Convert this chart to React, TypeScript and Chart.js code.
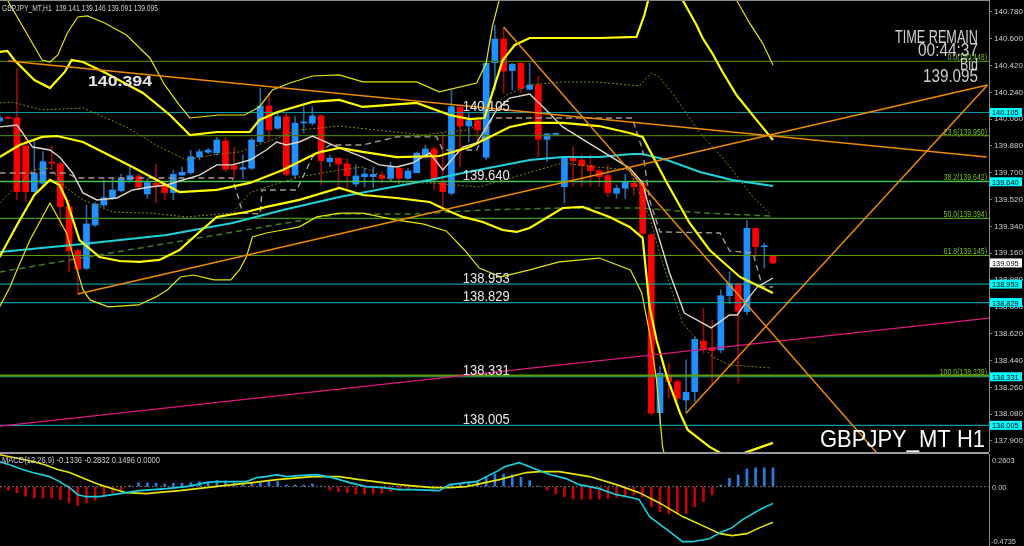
import React, { useEffect, useRef } from "react";
import { Chart, registerables } from "chart.js";
Chart.register(...registerables);

// ---------------- data ----------------
const candleOpen = [140.048,140.072,140.070,139.880,139.573,139.630,139.772,139.759,139.473,139.177,
 139.059,139.350,139.484,139.529,139.580,139.652,139.679,139.558,139.630,139.625,
 139.567,139.685,139.701,139.808,139.838,139.835,139.914,139.746,139.724,139.731,
 139.909,140.149,139.999,140.077,139.685,140.035,140.033,140.082,139.775,139.798,
 139.760,139.625,139.674,139.674,139.685,139.663,139.730,139.663,139.701,139.808,
 139.860,139.634,139.563,140.140,140.014,140.050,139.804,140.439,140.598,140.386,
 140.435,140.261,140.290,139.925,139.958,139.607,139.804,139.786,139.748,139.714,
 139.681,139.563,139.596,139.630,139.630,139.283,138.090,138.343,138.298,138.175,
 138.231,138.571,138.526,138.511,138.875,138.958,138.768,139.327,139.204,139.141];
const candleHigh = [140.090,140.080,140.400,139.932,139.927,139.842,139.880,139.770,139.517,139.190,
 139.484,139.500,139.652,139.665,139.690,139.741,139.690,139.659,139.759,139.640,
 139.719,139.741,139.853,139.858,139.865,139.936,139.936,139.871,139.820,139.932,
 140.267,140.236,140.104,140.100,140.077,140.144,140.144,140.090,139.820,139.800,
 139.798,139.753,139.732,139.740,139.708,139.772,139.741,139.730,139.840,139.887,
 139.875,139.965,140.256,140.155,140.100,140.077,140.446,140.692,140.670,140.435,
 140.440,140.435,140.350,139.965,139.970,139.810,139.875,139.820,139.820,139.720,
 139.753,139.618,139.690,139.660,139.652,139.290,138.399,138.421,138.310,138.444,
 138.600,138.790,138.712,138.914,139.036,138.960,139.379,139.330,139.228,139.146];
const candleLow = [140.030,140.060,139.518,139.506,139.570,139.607,139.719,139.339,139.037,138.886,
 139.048,139.340,139.470,139.520,139.570,139.645,139.585,139.529,139.500,139.518,
 139.518,139.680,139.690,139.786,139.830,139.820,139.708,139.663,139.663,139.719,
 139.900,139.920,139.990,139.679,139.663,139.967,140.020,139.618,139.741,139.596,
 139.596,139.607,139.605,139.600,139.630,139.650,139.630,139.655,139.700,139.800,
 139.585,139.464,139.552,139.741,139.909,139.898,139.786,140.256,140.234,140.256,
 140.234,140.256,139.808,139.775,139.950,139.497,139.607,139.607,139.607,139.607,
 139.540,139.529,139.529,139.550,139.280,138.074,137.996,138.187,138.170,138.086,
 138.164,138.490,138.287,138.493,138.824,138.287,138.746,139.137,139.060,139.091];
const candleClose = [140.070,140.066,139.573,139.573,139.697,139.775,139.765,139.473,139.177,139.053,
 139.357,139.491,139.533,139.585,139.663,139.681,139.607,139.634,139.618,139.567,
 139.690,139.703,139.808,139.842,139.853,139.920,139.724,139.724,139.735,139.920,
 140.149,139.988,140.077,139.690,140.033,140.040,140.082,139.781,139.798,139.759,
 139.680,139.679,139.692,139.690,139.663,139.741,139.663,139.712,139.831,139.860,
 139.652,139.573,140.144,140.014,140.050,139.988,140.435,140.598,140.383,140.428,
 140.267,140.290,139.925,139.961,139.962,139.804,139.781,139.748,139.714,139.674,
 139.567,139.596,139.637,139.607,139.294,138.086,138.354,138.298,138.187,138.226,
 138.582,138.521,138.506,138.875,138.958,138.772,139.327,139.204,139.206,139.095];

// indicator lines: [bar index, price]
const bbMid = [[0,139.806],[2.3,139.887],[4.9,139.941],[6.6,139.947],[9.6,139.907],[15.3,139.739],[20.7,139.571],[25,139.585],[28.8,139.632],[32.6,139.719],[36.5,139.833],[39.1,139.867],[41.8,139.840],[45.7,139.806],[50.6,139.813],[54.1,139.873],[56.4,139.941],[58.7,140.008],[61,140.035],[64.8,140.035],[69,140.014],[72.5,139.967],[74,139.941],[76.8,139.632],[79.4,139.363],[81.7,139.182],[85.2,139.001],[89,138.894]];
const bbUpper2 = [[0,140.511],[0.9,140.518],[1.7,140.457],[4,140.323],[5.8,140.269],[7.5,140.377],[8.3,140.457],[9.6,140.444],[12,140.377],[16.5,140.236],[19.6,140.088],[21.9,139.954],[25,139.974],[28.8,139.974],[29.9,140.055],[32,140.108],[36,140.176],[39.1,140.189],[41.8,140.142],[48,140.169],[51.8,140.088],[54.1,140.061],[55.8,140.068],[57,140.290],[57.9,140.457],[59.3,140.558],[61,140.605],[69,140.605],[73.3,140.612],[74.2,140.759],[74.8,140.894],[75.9,140.961],[78.6,140.860],[80.2,140.692],[80.9,140.605],[82,140.504],[83.2,140.377],[84.8,140.222],[87.1,140.055],[89,139.920]];
const bbLower2 = [[0,139.135],[2,139.350],[4,139.551],[5.8,139.652],[6.9,139.618],[7.7,139.518],[9.2,139.249],[11.5,139.135],[13.8,139.108],[16.1,139.102],[18.4,139.115],[20.7,139.182],[23,139.303],[25,139.404],[28.4,139.437],[30.7,139.471],[34.5,139.518],[39.1,139.598],[41.8,139.551],[45.7,139.531],[49.5,139.504],[51.4,139.451],[53.3,139.404],[55.6,139.370],[57.9,139.316],[59.5,139.303],[61,139.330],[64.8,139.464],[67.1,139.471],[70.2,139.404],[72.5,139.337],[74,139.263],[74.8,138.800],[75.6,138.578],[76.8,138.330],[78.3,138.088],[79.2,137.974],[81.7,137.860],[84,137.786],[86.7,137.840],[89,137.887]];
const bbUpper3 = [[0,140.927],[0.9,140.860],[2.9,140.659],[4.9,140.457],[5.8,140.444],[6.7,140.491],[7.8,140.639],[9,140.746],[10.1,140.753],[12.1,140.706],[14.6,140.625],[17.3,140.471],[19,140.290],[20.7,140.155],[21.9,140.068],[25.3,140.088],[28.2,140.088],[29.9,140.142],[31.4,140.256],[33.4,140.303],[36,140.350],[39.1,140.357],[41.8,140.310],[48,140.310],[50.6,140.243],[54.9,140.303],[56,140.437],[56.7,140.679],[57.5,140.860],[58.7,141.061],[69,141.128],[80.6,141.061],[84.8,140.860],[86.3,140.706],[87.8,140.571],[89,140.424]];
const bbLower3 = [[0,138.800],[1.2,138.934],[2,139.048],[3.5,139.249],[5.8,139.498],[7.7,139.296],[9.6,138.914],[10.4,138.847],[12.5,138.800],[16,138.813],[18,138.867],[19.3,138.914],[20.8,139.001],[22.3,139.014],[24.7,138.981],[26.6,138.981],[27.6,139.048],[28.4,139.135],[29.1,139.269],[30.7,139.296],[32.6,139.316],[34.5,139.337],[36.5,139.404],[39.1,139.430],[41.8,139.430],[45.7,139.383],[48.7,139.357],[51.4,139.310],[53.5,139.182],[55.2,139.061],[57.7,139.001],[61,139.048],[64.4,139.102],[69,139.128],[72.6,139.048],[73.9,138.894],[74.8,138.625],[75.6,138.310],[76.3,137.860],[78.3,137.370],[89,137.236]];
const fastMA = [[0,140.008],[2,140.021],[3.8,139.873],[5.8,139.853],[6.9,139.806],[8.4,139.699],[9.6,139.565],[11.2,139.518],[13.5,139.531],[15.3,139.585],[17.3,139.605],[19.2,139.618],[21.1,139.652],[23,139.685],[25,139.753],[26.8,139.753],[28.8,139.786],[30.7,139.853],[31.9,139.907],[33,139.887],[34.5,139.907],[36,139.947],[38.3,139.887],[39.1,139.867],[41.8,139.806],[43.7,139.753],[45.7,139.739],[47.5,139.766],[49.5,139.833],[51,139.719],[53.3,139.873],[54.9,139.900],[57.2,140.122],[58.7,140.202],[61,140.229],[62.9,140.122],[64.8,140.008],[68.7,139.867],[72.5,139.732],[74,139.632],[74.5,139.518],[75.6,139.316],[77.1,139.028],[78.8,138.759],[81.9,138.659],[84,138.746],[84.9,138.746],[86.3,138.867],[87.2,138.934],[89,138.994]];
const cyanMA = [[0,139.169],[9.6,139.222],[19.2,139.283],[26.8,139.363],[32.6,139.451],[39.1,139.538],[49.5,139.652],[53.3,139.699],[61,139.786],[64.8,139.806],[69,139.806],[72.8,139.826],[74,139.826],[76.8,139.786],[80.6,139.706],[84.3,139.652],[89,139.612]];
const greenMA = [[0,139.034],[39.1,139.424],[48,139.424],[55.9,139.451],[64.8,139.464],[74,139.464],[80.9,139.430],[89,139.410]];
const greyStep = [[0,139.699],[7.7,139.699],[8.9,139.665],[26.8,139.665],[28,139.430],[30,139.424],[30.2,139.585],[34.2,139.585],[36,139.806],[38,139.887],[41.8,139.887],[45.7,139.941],[50.3,139.941],[51,139.853],[54.9,139.853],[56.7,140.068],[72.8,140.068],[74,139.853],[74.8,139.518],[76,139.303],[82.9,139.296],[84,139.176],[86.7,139.162],[87.8,138.934],[89,138.934]];
const oliveUpper = [[0,140.169],[1.5,140.175],[4.9,140.122],[9.6,140.135],[14.6,140.008],[18.4,139.873],[21.5,139.786],[24.5,139.820],[27.6,139.840],[30.7,139.907],[34.5,139.988],[39.1,140.014],[48.7,139.954],[51.4,139.974],[54.1,139.988],[58.3,140.222],[61,140.290],[64.8,140.310],[68.7,140.310],[73.6,140.283],[75,140.370],[75.9,140.343],[77.4,140.236],[79,140.102],[80.6,139.967],[83.7,139.766],[86.7,139.538],[88.8,139.417]];
const oliveLower = [[0,139.498],[3.8,139.719],[5.8,139.732],[7.7,139.598],[9.6,139.518],[13,139.437],[17.3,139.430],[21.5,139.404],[26.8,139.430],[28.8,139.565],[30.7,139.605],[34.5,139.672],[39.1,139.719],[41.8,139.739],[45.7,139.632],[49.5,139.632],[55.2,139.605],[64.8,139.766],[68.7,139.739],[72.5,139.719],[74.8,139.404],[76.3,139.095],[78.6,138.692],[82,138.464],[84,138.410],[88.8,138.390]];

const orangeLines = [
  [[1,140.450],[113.6,139.806]],
  [[9,138.886],[113.7,140.289]],
  [[58,140.679],[102,137.75]],
  [[79,138.086],[113.7,140.289]],
];
const pinkLine = [[0,138.000],[113.86,138.725]];

const cyanLevels = [140.105, 139.640, 138.953, 138.829, 138.331, 138.005];
const fibNames = ["0.0", "23.6", "38.2", "50.0", "61.8", "100.0"];
const fibLevels = [140.448, 139.950, 139.642, 139.394, 139.145, 138.339];
const fibColors = ["#487a00", "#487a00", "#45c845", "#3c9c1c", "#5a9e00", "#5f9c00"];
const bidPrice = 139.095;
const priceTicks = [137.9,138.08,138.26,138.44,138.62,138.8,138.98,139.16,139.34,139.52,139.7,139.88,140.06,140.24,140.42,140.6,140.78];

const macdHist = [-0.01,-0.03,-0.05,-0.077,-0.09,-0.09,-0.09,-0.104,-0.13,-0.15,
 -0.13,-0.11,-0.077,-0.05,-0.025,0.008,0.03,0.03,0.027,0.02,
 0.027,0.027,0.03,0.04,0.04,0.048,0.045,0.027,0.02,0.027,
 0.03,0.04,0.04,0.013,0.013,0.013,0.02,0.003,-0.027,-0.04,
 -0.048,-0.058,-0.06,-0.058,-0.053,-0.04,-0.027,-0.02,-0.01,-0.005,
 0.005,-0.01,0.013,0.027,0.04,0.048,0.074,0.10,0.10,0.093,
 0.074,0.048,0.005,-0.027,-0.058,-0.08,-0.10,-0.10,-0.10,-0.10,
 -0.093,-0.085,-0.08,-0.066,-0.08,-0.16,-0.20,-0.218,-0.218,-0.213,
 -0.16,-0.12,-0.066,0.013,0.066,0.093,0.14,0.15,0.15,0.1496];
const macdMain = [[0,0.199],[1.15,0.175],[2.65,0.136],[3.8,0.112],[5.75,0.080],[6.9,0.040],[8.05,-0.008],[9,-0.064],[10,-0.080],[11.5,-0.080],[13,-0.064],[14.6,-0.048],[16.1,-0.032],[19.2,-0.016],[21.5,0],[23.8,0.032],[25,0.040],[26.8,0.040],[28.4,0.040],[29.6,0.072],[30.7,0.080],[31.9,0.096],[33,0.080],[34.5,0.088],[36.5,0.096],[38.3,0.072],[40.3,0.032],[42.2,0],[44.1,-0.008],[46,-0.024],[47.5,-0.024],[50.6,-0.032],[51.8,0.016],[53.7,0.032],[54.9,0.040],[56,0.080],[57.2,0.120],[58.1,0.159],[59.8,0.191],[61.8,0.136],[63.3,0.096],[65.2,0.064],[66.7,0.016],[69,-0.016],[71,-0.064],[72.8,-0.088],[73.6,-0.104],[74.8,-0.239],[76.8,-0.343],[78.6,-0.439],[79.7,-0.439],[81.7,-0.415],[82.9,-0.367],[84.3,-0.327],[85.5,-0.263],[87.5,-0.183],[89,-0.1336]];
const macdSignal = [[0,0.255],[4,0.199],[5.2,0.175],[6.7,0.136],[8.05,0.112],[10,0.056],[11.5,0.016],[13,-0.016],[14.6,-0.048],[16.9,-0.056],[18.1,-0.048],[20.7,-0.032],[23.8,-0.008],[26.8,0.016],[29.1,0.032],[31.9,0.056],[36,0.080],[39.1,0.080],[41.4,0.056],[44.1,0.032],[46,0.016],[49.8,-0.008],[51.8,-0.008],[53.7,0],[57.5,0.056],[60.6,0.112],[62.1,0.120],[64.4,0.120],[67.9,0.080],[71,0.016],[73.6,-0.048],[75.9,-0.128],[78.6,-0.239],[81.4,-0.327],[82.9,-0.375],[84.3,-0.391],[86,-0.375],[87.5,-0.327],[89,-0.2832]];

const X_MIN = 0.05, X_MAX = 113.86;
const P_MIN = 137.826, P_MAX = 140.860;
const M_MIN = -0.4735, M_MAX = 0.2603;

const FONT = '"Liberation Sans", Arial, sans-serif';

// ---------------- helpers ----------------
function fitText(ctx: any, text: string, x: number, y: number, size: number, o: any) {
  ctx.save();
  ctx.font = `${o.weight || "normal"} ${size}px ${FONT}`;
  const w = ctx.measureText(text).width;
  const s = o.width ? o.width / w : (o.sx || 1);
  ctx.translate(x, y);
  ctx.scale(s, 1);
  ctx.textAlign = o.align || "left";
  ctx.textBaseline = "alphabetic";
  ctx.fillStyle = o.color;
  ctx.fillText(text, 0, 0);
  ctx.restore();
}

const lineDs = (pts: number[][], color: string, width: number, dash?: number[]) => ({
  type: "line",
  data: pts.map(([x, y]) => ({ x, y })),
  borderColor: color,
  borderWidth: width,
  borderDash: dash || [],
  pointRadius: 0,
  pointHoverRadius: 0,
  fill: false,
  tension: 0,
});

const hLine = (v: number, color: string, width: number) =>
  lineDs([[X_MIN, v], [X_MAX, v]], color, width);

const pricePlugin = {
  id: "priceText",
  afterDatasetsDraw(chart: any) {
    const ctx = chart.ctx;
    const xs = chart.scales.x;
    const ys = chart.scales.y;
    ctx.save();
    ctx.fillStyle = "#8c8c8c";
    ctx.fillRect(0, 0, chart.chartArea.right, 1);
    ctx.restore();
    fitText(ctx, "GBPJPY_MT,H1  139.141 139.146 139.091 139.095", 2, 11, 8.5, { width: 156, color: "#cccccc" });
    fitText(ctx, "140.394", 88, 86, 15, { width: 64, color: "#e6e6e6", weight: "bold" });
    cyanLevels.forEach((v) => {
      fitText(ctx, v.toFixed(3), xs.getPixelForValue(53.3), ys.getPixelForValue(v) - 1.5, 14, { width: 47, color: "#e8e8e8" });
    });
    fibLevels.forEach((v, i) => {
      fitText(ctx, `${fibNames[i]}(${v.toFixed(3)})`, 987, ys.getPixelForValue(v) - 1, 8.5, { sx: 0.82, align: "right", color: "#78c018" });
    });
    const c = "#cfcfcf";
    fitText(ctx, "TIME REMAIN", 978, 43, 18, { width: 83, align: "right", color: c });
    fitText(ctx, "00:44:37", 978, 55.5, 18, { width: 60, align: "right", color: c });
    fitText(ctx, "Bid", 978, 70, 17, { width: 18, align: "right", color: c });
    fitText(ctx, "139.095", 978, 82, 19, { width: 55, align: "right", color: c });
    fitText(ctx, "GBPJPY_MT H1", 985, 447, 24, { width: 165, align: "right", color: "#ffffff" });
  },
  afterDraw(chart: any) {
    const ctx = chart.ctx;
    const ys = chart.scales.y;
    const left = chart.chartArea.right + 1;
    const box = (v: number, bg: string) => {
      const y = ys.getPixelForValue(v);
      ctx.fillStyle = bg;
      ctx.fillRect(left, y - 4.5, 32, 9);
      fitText(ctx, v.toFixed(3), left + 2, y + 3, 8, { sx: 0.92, color: "#000000" });
    };
    cyanLevels.forEach((v) => box(v, "#00ffff"));
    box(bidPrice, "#ffffff");
  },
};

const macdPlugin = {
  id: "macdText",
  afterDatasetsDraw(chart: any) {
    fitText(chart.ctx, "MACD(12,26,9) -0.1336 -0.2832 0.1496 0.0000", 2, 8.5, 8.5, { width: 158, color: "#cccccc" });
  },
  afterDraw(chart: any) {
    const ctx = chart.ctx;
    const ys = chart.scales.y;
    const left = chart.chartArea.right + 3;
    fitText(ctx, M_MAX.toFixed(4), left, 9, 8, { sx: 0.92, color: "#c8c8c8" });
    fitText(ctx, "0.00", left, ys.getPixelForValue(0) + 3, 8, { sx: 0.92, color: "#c8c8c8" });
    fitText(ctx, M_MIN.toFixed(4), left - 1, 90, 8, { sx: 0.92, color: "#c8c8c8" });
  },
};

function priceConfig(): any {
  const up = (i: number) => candleClose[i] >= candleOpen[i];
  const idx = candleOpen.map((_, i) => i);
  const datasets: any[] = [
    ...orangeLines.map((l) => lineDs(l, "#ee8a00", 1.5)),
    lineDs(pinkLine, "#e0187e", 1.3),
    lineDs(bbUpper3, "#e6e600", 1.2),
    lineDs(bbLower3, "#e6e600", 1.2),
    lineDs(bbUpper2, "#ffff00", 2.2),
    lineDs(bbLower2, "#ffff00", 2.2),
    lineDs(bbMid, "#ffff00", 2.2),
    lineDs(fastMA, "#e2d6c6", 1.4),
    lineDs(greyStep, "#a29a90", 1.4, [6, 4]),
    lineDs(oliveUpper, "#8a8a00", 1, [2, 2]),
    lineDs(oliveLower, "#8a8a00", 1, [2, 2]),
    lineDs(cyanMA, "#1ed2dc", 2),
    lineDs(greenMA, "#3f7f1a", 1.5, [6, 4]),
    ...fibLevels.map((v, i) => hLine(v, fibColors[i], i === 5 ? 2 : 1.2)),
    ...cyanLevels.map((v) => hLine(v, "#0c9aa2", 1.2)),
    {
      type: "bar",
      data: idx.map((i) => ({ x: i, y: [candleOpen[i], candleClose[i]] })),
      backgroundColor: idx.map((i) => (up(i) ? "#1e90ff" : "#ff0000")),
      borderWidth: 0,
      barThickness: 6,
      minBarLength: 1,
      grouped: false,
    },
    {
      type: "bar",
      data: idx.map((i) => ({ x: i, y: [candleLow[i], candleHigh[i]] })),
      backgroundColor: idx.map((i) => (up(i) ? "#2a64a0" : "#9a0c0c")),
      borderWidth: 0,
      barThickness: 1,
      grouped: false,
    },
  ];
  return {
    type: "line",
    data: { datasets },
    options: {
      responsive: false,
      animation: false,
      events: [],
      layout: { padding: 0 },
      plugins: { legend: { display: false }, tooltip: { enabled: false } },
      scales: {
        x: { type: "linear", min: X_MIN, max: X_MAX, display: false, offset: false },
        y: {
          type: "linear",
          position: "right",
          min: P_MIN,
          max: P_MAX,
          afterBuildTicks: (s: any) => { s.ticks = priceTicks.map((v) => ({ value: v })); },
          afterFit: (s: any) => { s.width = 35; s.paddingTop = 0; s.paddingBottom = 0; },
          ticks: {
            color: "#d0d0d0",
            font: { size: 8, family: FONT },
            padding: 2,
            autoSkip: false,
            callback: (v: any) => Number(v).toFixed(3),
          },
          grid: { drawOnChartArea: false, drawTicks: true, tickLength: 3, color: "#808080" },
          border: { display: true, color: "#8a8a8a", width: 1 },
        },
      },
    },
    plugins: [pricePlugin],
  };
}

function macdConfig(): any {
  const idx = macdHist.map((_, i) => i);
  const datasets: any[] = [
    lineDs(macdMain, "#16d0e0", 1.6),
    lineDs(macdSignal, "#e6e600", 1.6),
    lineDs([[X_MIN, 0], [X_MAX, 0]], "#6e6e6e", 1, [2, 2]),
    {
      type: "bar",
      data: idx.map((i) => ({ x: i, y: macdHist[i] })),
      backgroundColor: macdHist.map((v) => (v >= 0 ? "#2280e0" : "#cc0000")),
      borderWidth: 0,
      barThickness: 2,
      grouped: false,
    },
  ];
  return {
    type: "line",
    data: { datasets },
    options: {
      responsive: false,
      animation: false,
      events: [],
      layout: { padding: 0 },
      plugins: { legend: { display: false }, tooltip: { enabled: false } },
      scales: {
        x: { type: "linear", min: X_MIN, max: X_MAX, display: false, offset: false },
        y: {
          type: "linear",
          position: "right",
          min: M_MIN,
          max: M_MAX,
          afterFit: (s: any) => { s.width = 35; s.paddingTop = 0; s.paddingBottom = 0; },
          ticks: { display: false },
          grid: { drawOnChartArea: false, drawTicks: false },
          border: { display: true, color: "#8a8a8a", width: 1 },
        },
      },
    },
    plugins: [macdPlugin],
  };
}

export default function App() {
  const priceRef = useRef<HTMLCanvasElement>(null);
  const macdRef = useRef<HTMLCanvasElement>(null);
  useEffect(() => {
    document.body.style.margin = "0";
    document.body.style.background = "#000";
    const c1 = new Chart(priceRef.current as any, priceConfig());
    const c2 = new Chart(macdRef.current as any, macdConfig());
    return () => {
      c1.destroy();
      c2.destroy();
    };
  }, []);
  return (
    <div style={{ position: "relative", width: 1024, height: 546, background: "#000", overflow: "hidden" }}>
      <canvas ref={priceRef} width={1024} height={452} style={{ position: "absolute", left: 0, top: 0 }} />
      <div style={{ position: "absolute", left: 0, top: 452, width: 989, height: 2, background: "#9a9a9a" }} />
      <canvas ref={macdRef} width={1024} height={92} style={{ position: "absolute", left: 0, top: 454 }} />
    </div>
  );
}
